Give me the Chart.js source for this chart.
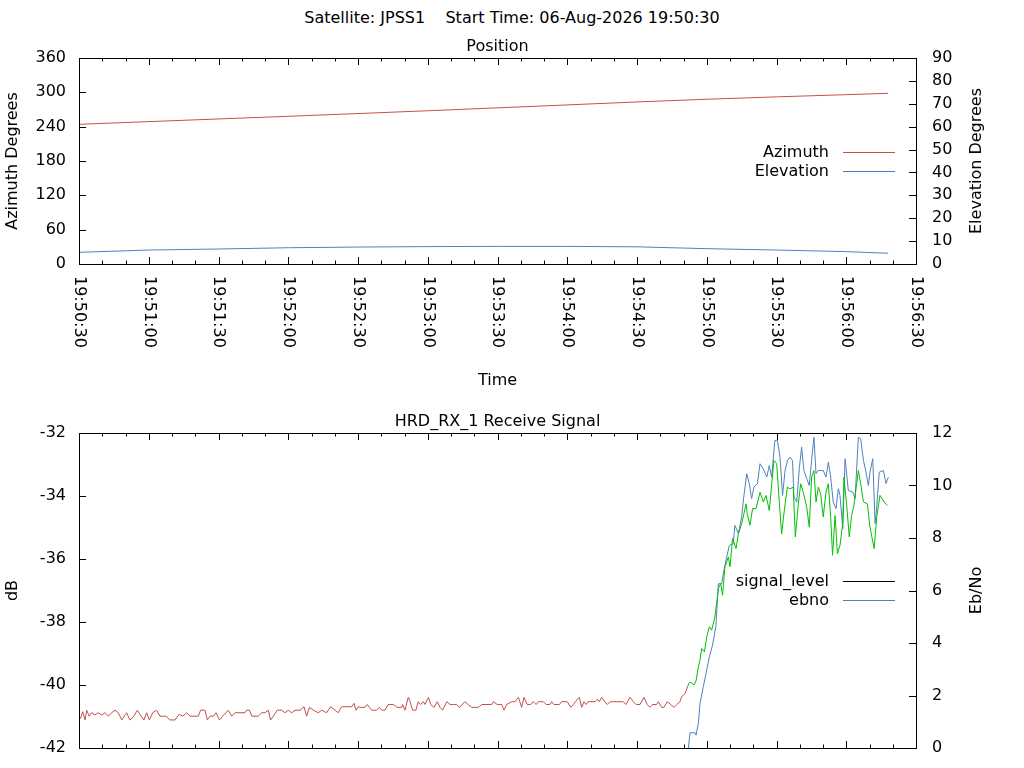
<!DOCTYPE html>
<html>
<head>
<meta charset="utf-8">
<script src="https://cdn.jsdelivr.net/npm/chart.js@4.4.1/dist/chart.umd.min.js"></script>
<style>
  html, body { margin: 0; padding: 0; background: #fff; }
  #page { position: relative; width: 1024px; height: 768px; overflow: hidden; }
  #mainTitle {
    position: absolute; left: 0; top: 8px; width: 1024px; text-align: center;
    font: 16px "DejaVu Sans", sans-serif; line-height: 19px; white-space: pre; color: #000;
  }
  canvas { position: absolute; left: 0; }
  #positionChart { top: 0; }
  #signalChart { top: 400px; }
</style>
</head>
<body>
<div id="page">
  <div id="mainTitle">Satellite: JPSS1    Start Time: 06-Aug-2026 19:50:30</div>
  <canvas id="positionChart" width="1024" height="400" style="width:1024px;height:400px"></canvas>
  <canvas id="signalChart" width="1024" height="368" style="width:1024px;height:368px"></canvas>
</div>
<script>
// start of the pass, x values are seconds after it
const startClock = [19, 50, 30];

// position (read every 30 s)
const posTime = [0, 30, 60, 90, 120, 150, 180, 210, 240, 270, 300, 330, 348];
const azimuth = [244.1, 248.8, 253.5, 258.1, 262.9, 267.8, 272.9, 278.0, 283.2, 287.9, 292.1, 295.9, 298.3];
const elevation = [5.1, 6.1, 6.55, 7.1, 7.4, 7.6, 7.7, 7.7, 7.5, 6.7, 6.1, 5.4, 4.7];

// receive signal level (dB)
const sigTime = [
  0, 0.7, 1.6, 2.6, 3.3, 4.4, 5.5, 6.9, 8.3, 9.8, 11.2, 12.6, 14.1, 15.5, 16.9, 18.4, 19.8, 20.5, 21.9, 23.4,
  25.1, 26.9, 27.9, 29.1, 30.3, 31.7, 33.4, 34.8, 37.4, 39.1, 41.3, 43.1, 44.6, 46.3, 47.7, 51.3, 52.3, 54.2, 55.2, 56.3,
  57.8, 58.9, 60.4, 61.8, 64.2, 65.7, 67.1, 71.4, 72.1, 73.3, 74.3, 77.1, 78.6, 80.0, 81.4, 82.4, 83.6, 85.3, 87.2, 88.6,
  90.0, 91.5, 92.9, 95.1, 96.8, 97.9, 99.1, 100.8, 102.9, 104.4, 106.5, 108.2, 110.1, 111.5, 113.0, 117.3, 118.3, 119.1, 120.1,
  120.9, 123.0, 124.0, 125.9, 128.0, 129.2, 130.2, 131.6, 133.0, 135.2, 136.9, 138.8, 139.2, 140.2, 141.6, 142.4, 143.5, 144.9,
  145.9, 147.0, 148.1, 148.8, 150.3, 151.3, 152.7, 154.1, 155.3, 156.4, 158.2, 159.6, 161.0, 162.4, 163.6, 166.0, 167.4, 168.9,
  171.8, 173.2, 177.5, 178.2, 179.9, 181.8, 182.8, 183.9, 186.1, 187.5, 189.0, 190.4, 191.4, 192.8, 194.3, 195.4, 196.6, 197.6,
  199.7, 200.9, 202.6, 203.3, 204.3, 206.6, 207.6, 210.0, 211.5, 212.6, 214.4, 215.2, 216.2, 217.2, 218.1, 219.1, 222.0, 223.0,
  223.8, 224.8, 226.2, 227.2, 228.4, 234.1, 235.2, 237.0, 238.4, 239.6, 241.3, 243.0, 244.4, 245.6, 246.7, 248.4, 249.2, 250.6,
  251.6, 253.0, 254.5, 255.9, 257.1, 258.5, 259.2, 260.7, 261.7, 262.5, 263.5, 264.5, 265.4, 266.4, 267.1, 267.8, 269.0, 270.0,
  271.1, 272.1, 273.5, 275.0, 276.0, 276.8, 277.8, 279.3, 280.0, 281.1, 282.6, 283.6, 285.0, 286.0, 286.9, 287.4, 288.6, 289.7,
  291.2, 292.9, 294.3, 295.5, 296.9, 297.9, 298.9, 300.1, 301.2, 302.2, 303.7, 304.7, 305.8, 307.2, 308.1, 309.4, 310.4, 311.5,
  313.0, 314.1, 315.1, 316.1, 317.0, 318.0, 319.0, 320.1, 321.3, 322.3, 323.3, 324.1, 325.2, 326.2, 327.3, 328.5, 329.0, 330.2,
  331.3, 332.3, 333.3, 335.2, 336.2, 337.4, 339.1, 340.2, 342.0, 343.1, 344.5, 346.3, 347.7
];
const sigLevel = [
  -40.99, -41.06, -40.85, -41.11, -40.80, -40.99, -40.88, -40.95, -40.88, -40.95, -40.88, -40.99, -40.88, -40.80, -40.88, -41.11, -40.95, -40.88, -41.11, -41.01,
  -40.80, -41.01, -41.11, -40.88, -41.11, -40.88, -40.80, -40.99, -40.99, -41.11, -41.11, -40.93, -40.99, -40.88, -40.99, -40.99, -40.80, -40.80, -41.11, -40.99,
  -40.99, -40.88, -41.11, -40.99, -40.80, -40.99, -40.88, -40.88, -40.80, -40.80, -40.99, -40.99, -40.88, -40.88, -40.80, -41.11, -40.99, -40.80, -40.80, -40.88,
  -40.80, -40.88, -40.80, -40.80, -40.69, -40.99, -40.71, -40.80, -40.88, -40.80, -40.88, -40.69, -40.80, -40.88, -40.69, -40.69, -40.58, -40.80, -40.69,
  -40.71, -40.71, -40.62, -40.80, -40.80, -40.71, -40.80, -40.80, -40.62, -40.62, -40.71, -40.71, -40.62, -40.80, -40.39, -40.53, -40.80, -40.80,
  -40.53, -40.62, -40.53, -40.62, -40.39, -40.62, -40.71, -40.53, -40.71, -40.80, -40.53, -40.62, -40.62, -40.62, -40.71, -40.53, -40.62, -40.71,
  -40.71, -40.62, -40.62, -40.53, -40.62, -40.62, -40.80, -40.62, -40.53, -40.53, -40.39, -40.71, -40.39, -40.62, -40.62, -40.53, -40.62, -40.53,
  -40.53, -40.62, -40.62, -40.53, -40.62, -40.62, -40.53, -40.53, -40.71, -40.62, -40.45, -40.39, -40.71, -40.53, -40.62, -40.53, -40.53, -40.45,
  -40.53, -40.39, -40.53, -40.62, -40.53, -40.53, -40.62, -40.39, -40.53, -40.62, -40.62, -40.39, -40.62, -40.71, -40.62, -40.62, -40.53, -40.71,
  -40.71, -40.53, -40.62, -40.71, -40.62, -40.53, -40.37, -40.27, -40.06, -39.92, -39.93, -40.00, -39.87, -39.42, -39.21, -38.84, -38.95, -38.47,
  -38.15, -38.26, -37.84, -36.94, -36.78, -37.15, -36.25, -35.94, -36.25, -35.35, -35.67, -35.20, -34.88, -34.56, -34.25, -34.56, -34.93, -34.40,
  -34.40, -33.88, -34.19, -33.98, -34.46, -33.66, -32.87, -32.98, -34.19, -35.20, -34.25, -33.72, -33.77, -33.72, -35.30, -34.25, -33.61, -33.88,
  -34.35, -34.99, -33.40, -33.19, -34.19, -33.72, -33.93, -34.67, -33.88, -33.61, -34.67, -35.88, -34.62, -35.83, -35.57, -34.88, -33.40, -34.30,
  -35.30, -34.62, -34.30, -33.19, -33.61, -34.19, -34.25, -34.99, -35.67, -34.67, -33.98, -34.19, -34.30
];

// Eb/No, only visible once the receiver locks
const ebnoTime = [
  261.0, 262.1, 262.8, 264.9, 265.4, 266.4, 267.1, 268.5, 270.0, 271.1, 272.5, 273.9, 275.0, 276.4, 277.4, 278.6, 279.7, 281.4,
  282.1, 283.6, 285.0, 286.0, 287.2, 288.3, 289.3, 290.3, 291.8, 292.9, 294.3, 295.8, 296.9, 297.9, 299.3, 300.4, 301.5, 302.6,
  303.7, 304.7, 305.8, 306.9, 307.5, 308.7, 309.8, 310.8, 311.8, 313.0, 314.1, 315.1, 316.1, 317.0, 318.0, 320.1, 321.3, 322.3,
  323.3, 324.4, 325.6, 326.6, 327.3, 328.5, 329.5, 330.9, 332.8, 333.8, 335.2, 336.2, 337.4, 338.5, 339.5, 340.2, 341.4, 342.4,
  343.1, 344.2, 346.0, 347.1, 348.1
];
const ebnoValue = [
  -0.5, 0.0, 0.58, 0.58, 0.49, 0.94, 1.70, 2.33, 2.97, 3.47, 3.92, 4.62, 6.26, 6.26, 6.77, 7.28, 7.72, 7.79,
  8.48, 8.17, 8.80, 9.62, 10.45, 10.07, 9.50, 9.94, 10.07, 10.83, 10.64, 10.32, 10.76, 10.32, 11.72, 11.72, 11.08, 9.62,
  10.57, 10.95, 11.08, 10.95, 9.56, 9.37, 10.64, 11.46, 10.57, 10.26, 10.00, 10.95, 11.84, 10.45, 10.57, 10.57, 10.32, 10.89,
  10.32, 9.37, 9.12, 9.88, 9.62, 8.36, 11.02, 9.81, 9.75, 9.50, 11.84, 11.78, 10.95, 10.51, 10.00, 10.51, 11.02, 8.55,
  9.18, 10.51, 10.57, 10.07, 10.32
];

const red = '#c0504d';
const blue = '#4f81bd';
const green = '#00c000';
const lockLevel = -40.0; // signal drawn green above this

Chart.defaults.font.family = '"DejaVu Sans", sans-serif';
Chart.defaults.font.size = 16;
Chart.defaults.color = '#000';

function clockLabel(sec) {
  const s = startClock[0] * 3600 + startClock[1] * 60 + startClock[2] + sec;
  const hh = Math.floor(s / 3600), mm = Math.floor((s % 3600) / 60), ss = s % 60;
  return [hh, mm, ss].map(n => String(n).padStart(2, '0')).join(':');
}

function pts(xs, ys) {
  return xs.map((x, i) => ({ x: x, y: ys[i] }));
}

// gnuplot look: box, inward ticks, rotated time labels, key inside
const frame = {
  id: 'frame',
  afterDraw(chart, args, opts) {
    const { ctx, chartArea: a, scales } = chart;
    ctx.save();
    ctx.strokeStyle = '#000';
    ctx.lineWidth = 1;
    ctx.strokeRect(Math.round(a.left) + 0.5, Math.round(a.top) + 0.5,
      Math.round(a.right - a.left), Math.round(a.bottom - a.top));

    ctx.beginPath();
    scales.x.ticks.forEach(t => {
      const px = Math.round(scales.x.getPixelForValue(t.value)) + 0.5;
      const len = t.value % 30 === 0 ? 7 : 3.5;
      ctx.moveTo(px, a.bottom); ctx.lineTo(px, a.bottom - len);
      ctx.moveTo(px, a.top); ctx.lineTo(px, a.top + len);
    });
    scales.y.ticks.forEach(t => {
      const py = Math.round(scales.y.getPixelForValue(t.value)) + 0.5;
      ctx.moveTo(a.left, py); ctx.lineTo(a.left + 7, py);
    });
    scales.y1.ticks.forEach(t => {
      const py = Math.round(scales.y1.getPixelForValue(t.value)) + 0.5;
      ctx.moveTo(a.right, py); ctx.lineTo(a.right - 7, py);
    });
    ctx.stroke();

    ctx.fillStyle = '#000';
    ctx.font = '16px "DejaVu Sans", sans-serif';

    // plot title
    ctx.textAlign = 'center';
    ctx.textBaseline = 'middle';
    ctx.fillText(opts.title, (a.left + a.right) / 2, a.top - 11);

    // right axis title, read bottom to top
    ctx.save();
    ctx.translate(a.right + 61, (a.top + a.bottom) / 2);
    ctx.rotate(-Math.PI / 2);
    ctx.fillText(opts.rightTitle, 0, 0);
    ctx.restore();

    if (opts.timeLabels) {
      scales.x.ticks.forEach(t => {
        if (t.value % 30 !== 0) return;
        const px = scales.x.getPixelForValue(t.value);
        ctx.save();
        ctx.translate(px, a.bottom + 12);
        ctx.rotate(Math.PI / 2);
        ctx.textAlign = 'left';
        ctx.fillText(clockLabel(t.value), 0, 0);
        ctx.restore();
      });
    }

    // key
    const sets = chart.data.datasets;
    const midY = (a.top + a.bottom) / 2;
    sets.forEach((ds, i) => {
      const y = Math.round(midY + (i - (sets.length - 1) / 2) * 19) + 0.5;
      ctx.textAlign = 'right';
      ctx.fillText(ds.label, a.right - 87, y);
      ctx.strokeStyle = ds.borderColor;
      ctx.beginPath();
      ctx.moveTo(a.right - 73, y);
      ctx.lineTo(a.right - 21, y);
      ctx.stroke();
    });
    ctx.restore();
  }
};

function xScale(height, title) {
  return {
    type: 'linear', min: 0, max: 360,
    ticks: { display: false, stepSize: 10 },
    grid: { display: false, drawTicks: false },
    border: { display: false },
    title: title ? { display: true, text: title, padding: { top: 0, bottom: 10 } } : { display: false },
    afterFit: s => { s.height = height; }
  };
}

// label gap comes from tickLength (not ticks.padding) so the scale adds no extra bottom padding
function yScale(pos, min, max, step, title) {
  return {
    type: 'linear', position: pos, min: min, max: max,
    ticks: { stepSize: step, padding: 0 },
    grid: { display: false, drawTicks: true, tickLength: pos === 'left' ? 13 : 16 },
    border: { display: false },
    title: title ? { display: true, text: title, padding: { top: 3, bottom: 0 } } : { display: false },
    afterFit: s => { s.width = pos === 'left' ? 79 : 108; }
  };
}

const common = {
  responsive: false,
  animation: false,
  events: [],
  elements: { point: { radius: 0 }, line: { borderWidth: 1, tension: 0 } },
  plugins: { legend: { display: false }, tooltip: { enabled: false } }
};

new Chart(document.getElementById('positionChart'), {
  type: 'line',
  data: {
    datasets: [
      { label: 'Azimuth', data: pts(posTime, azimuth), borderColor: red, yAxisID: 'y' },
      { label: 'Elevation', data: pts(posTime, elevation), borderColor: blue, yAxisID: 'y1' }
    ]
  },
  options: Object.assign({}, common, {
    layout: { padding: { top: 58, left: 0, right: 0, bottom: 0 } },
    scales: {
      x: xScale(136, 'Time'),
      y: yScale('left', 0, 360, 60, 'Azimuth Degrees'),
      y1: yScale('right', 0, 90, 10, null)
    },
    plugins: Object.assign({}, common.plugins, {
      frame: { title: 'Position', rightTitle: 'Elevation Degrees', timeLabels: true }
    })
  }),
  plugins: [frame]
});

new Chart(document.getElementById('signalChart'), {
  type: 'line',
  data: {
    datasets: [
      {
        label: 'signal_level', data: pts(sigTime, sigLevel), borderColor: '#000', yAxisID: 'y',
        segment: {
          borderColor: c => (c.p0.parsed.y > lockLevel || c.p1.parsed.y > lockLevel) ? green : red
        }
      },
      { label: 'ebno', data: pts(ebnoTime, ebnoValue), borderColor: blue, yAxisID: 'y1' }
    ]
  },
  options: Object.assign({}, common, {
    layout: { padding: { top: 33, left: 0, right: 0, bottom: 0 } },
    scales: {
      x: xScale(20, null),
      y: yScale('left', -42, -32, 2, 'dB'),
      y1: yScale('right', 0, 12, 2, null)
    },
    plugins: Object.assign({}, common.plugins, {
      frame: { title: 'HRD_RX_1 Receive Signal', rightTitle: 'Eb/No', timeLabels: false }
    })
  }),
  plugins: [frame]
});
</script>
</body>
</html>
